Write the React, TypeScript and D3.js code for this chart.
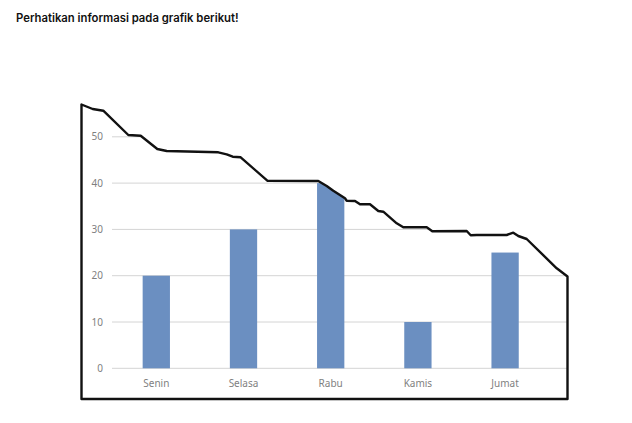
import * as d3 from "d3";

const days = ["Senin", "Selasa", "Rabu", "Kamis", "Jumat"];
const values = [20, 30, 40, 10, 25];
const yTicks = [0, 10, 20, 30, 40, 50];
const title = "Perhatikan informasi pada grafik berikut!";

// torn top edge of the paper frame, left to right (decoration)
const tornEdge: [number, number][] = [
  [81.5, 104.5], [92.7, 109], [103.3, 110.7], [128.3, 135], [140.7, 135.7],
  [157.3, 149], [166.7, 151], [218.3, 152.3], [226.7, 154.3], [232.7, 156.7],
  [240.7, 157.3], [267.3, 180.7], [318.3, 181], [326.7, 186], [333.3, 190.7],
  [345, 198.3], [346.7, 200.7], [355, 201], [360, 204.3], [370, 204.3],
  [378.3, 211], [383.3, 211.7], [396.7, 223.3], [403.3, 227.3], [426.7, 227.3],
  [432.3, 231.3], [466.7, 231], [470.7, 235.3], [476.7, 235], [506.7, 235],
  [513.3, 232.7], [518.3, 236], [526.7, 239], [556.7, 268.3], [567.5, 276.5],
];

export default function App() {
  const width = 632;
  const height = 423;
  const left = 81.5;
  const right = 567.5;
  const bottom = 399;

  const x = d3
    .scaleBand<string>()
    .domain(days)
    .range([112.7, 548.7])
    .paddingInner(0.687)
    .paddingOuter(0.3435);
  const y = d3.scaleLinear().domain([0, 50]).range([368.3, 136.8]);

  const outline =
    `M${left},${bottom}L${right},${bottom}` +
    tornEdge
      .slice()
      .reverse()
      .map(([px, py]) => `L${px},${py}`)
      .join("") +
    "Z";

  return (
    <svg
      width={width}
      height={height}
      style={{ position: "absolute", left: 0, top: 0, background: "#fff" }}
    >
      <text
        x={16}
        y={22}
        fontFamily="Inter, 'Noto Sans', sans-serif"
        fontWeight={600}
        fontSize={11.3}
        fill="#111"
      >
        {title}
      </text>
      <defs>
        <clipPath id="paper">
          <path d={outline} />
        </clipPath>
      </defs>
      <path d={outline} fill="#fff" />
      <g clipPath="url(#paper)">
        {yTicks.map((t) => (
          <line
            key={t}
            x1={112}
            x2={right}
            y1={y(t)}
            y2={y(t)}
            stroke="#d4d4d4"
            strokeWidth={1}
          />
        ))}
        {values.map((v, i) => (
          <rect
            key={days[i]}
            x={x(days[i])}
            y={y(v)}
            width={x.bandwidth()}
            height={y(0) - y(v)}
            fill="#6b8fc1"
          />
        ))}
      </g>
      <g
        fontFamily="'Noto Sans', 'DejaVu Sans', sans-serif"
        fontSize={10}
        fill="#7f7f7f"
      >
        {yTicks.map((t) => (
          <text key={t} x={103} y={y(t)} dy="0.35em" textAnchor="end">
            {t}
          </text>
        ))}
        {days.map((d) => (
          <text
            key={d}
            x={(x(d) ?? 0) + x.bandwidth() / 2}
            y={383.5}
            dy="0.35em"
            textAnchor="middle"
          >
            {d}
          </text>
        ))}
      </g>
      <path
        d={outline}
        fill="none"
        stroke="#111"
        strokeWidth={2.4}
        strokeLinejoin="round"
      />
    </svg>
  );
}
